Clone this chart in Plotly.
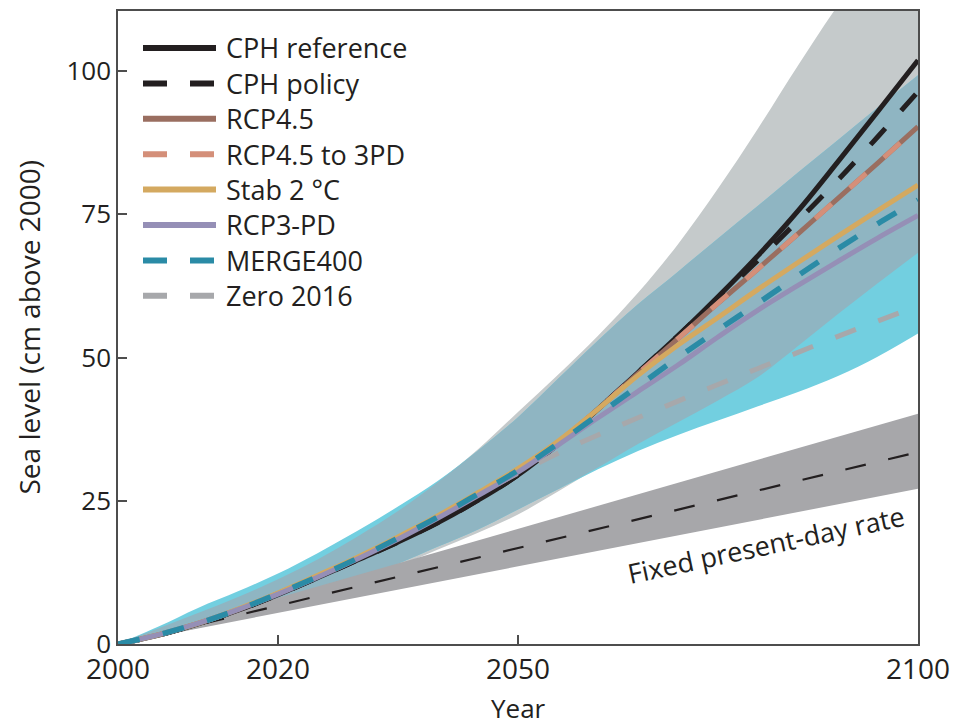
import numpy as np
import plotly.graph_objects as go

# ---------------------------------------------------------------- data
years = [2000, 2005, 2010, 2015, 2020, 2025, 2030, 2035, 2040, 2045, 2050,
         2055, 2060, 2065, 2070, 2075, 2080, 2085, 2090, 2095, 2100]

cph_reference = [0, 1.5, 3.5, 5.9, 8.6, 11.6, 14.7, 17.8, 21.2, 25.1, 29.5,
                 34.9, 41.0, 47.4, 53.8, 60.6, 67.8, 75.6, 84.2, 93.0, 101.9]
cph_policy = [0, 1.5, 3.5, 5.9, 8.6, 11.6, 14.7, 17.8, 21.2, 25.1, 29.5,
              34.9, 41.0, 47.4, 53.8, 60.4, 67.0, 73.9, 81.0, 88.6, 96.4]
rcp45 = [0, 1.6, 3.6, 6.0, 8.8, 11.8, 15.0, 18.5, 22.2, 26.2, 30.4,
         35.2, 41.0, 47.2, 53.3, 59.5, 65.5, 71.6, 77.8, 84.0, 90.3]
rcp45_to_3pd = [0, 1.6, 3.6, 6.0, 8.8, 11.8, 15.0, 18.5, 22.2, 26.2, 30.4,
                35.2, 41.0, 47.2, 53.3, 59.5, 65.5, 71.6, 77.8, 84.0, 90.3]
stab_2c = [0, 1.6, 3.6, 6.1, 8.9, 12.0, 15.2, 18.7, 22.4, 26.4, 30.6,
           35.4, 41.0, 46.9, 52.2, 57.0, 61.9, 66.6, 71.2, 75.7, 80.1]
rcp3_pd = [0, 1.6, 3.6, 6.0, 8.7, 11.7, 14.9, 18.3, 22.0, 25.9, 30.0,
           34.7, 39.5, 44.1, 48.7, 53.6, 58.3, 62.6, 66.8, 70.9, 74.8]
merge400 = [0, 1.6, 3.6, 6.0, 8.8, 11.8, 15.0, 18.5, 22.2, 26.2, 30.3,
            35.0, 40.0, 45.0, 50.0, 54.8, 59.5, 64.3, 69.0, 73.4, 77.5]
zero_2016 = [0, 1.6, 3.6, 6.0, 8.8, 11.8, 15.0, 18.5, 22.2, 26.1, 29.8,
             33.3, 36.5, 39.5, 42.4, 45.3, 48.1, 50.9, 53.7, 56.4, 59.0]

# uncertainty ranges
gray_low = [0, 1.3, 2.8, 4.5, 6.5, 8.6, 11.0, 13.6, 16.5, 19.4, 22.6,
            26.6, 30.8, 34.9, 38.7, 42.5, 46.6, 52.0, 57.6, 63.0, 68.3]
gray_high = [0, 2.7, 5.4, 8.2, 11.3, 14.8, 18.8, 23.2, 28.3, 34.0, 40.5,
             47.0, 53.8, 61.3, 69.8, 79.5, 90.0, 101.0, 111.5, 121.0, 130.0]
cyan_low = [0, 1.4, 3.0, 4.8, 7.0, 9.1, 11.5, 14.0, 17.0, 20.0, 23.5,
            27.0, 30.5, 33.7, 36.5, 39.0, 41.5, 44.0, 46.8, 50.2, 54.2]
cyan_high = [0, 3.0, 6.3, 9.2, 12.3, 15.9, 19.8, 24.0, 28.5, 33.8, 39.6,
             46.3, 53.0, 59.3, 65.0, 70.8, 76.5, 82.3, 88.0, 93.7, 99.3]

# fixed present-day rate (linear)
fixed_years = [2000, 2100]
fixed_low = [0, 27.1]
fixed_mid = [0, 33.5]
fixed_high = [0, 40.2]

x_ticks = [2000, 2020, 2050, 2100]
y_ticks = [0, 25, 50, 75, 100]

# ---------------------------------------------------------------- style
FONT = "Open Sans"
TEXT = "#231f20"
AX = "#4d4d4d"

C_BLACK = "#231f20"
C_BROWN = "#9a6e60"
C_SALMON = "#d48f79"
C_YELLOW = "#d4a960"
C_PURPLE = "#958fb6"
C_TEAL = "#2a8ba6"
C_GREY = "#a7a8ab"

C_BAND_GRAY = "#c5cacb"
C_BAND_CYAN = "#72cfe0"
C_BAND_BOTH = "#8fb5c2"
C_BAND_FIXED = "#a7a7aa"

DASH = "22px,24px"

fig = go.Figure()


def band(xs, lo, hi, color, shape="spline"):
    fig.add_trace(go.Scatter(
        x=list(xs), y=list(lo), mode="lines",
        line=dict(width=0, color=color, shape=shape),
        hoverinfo="skip", showlegend=False))
    fig.add_trace(go.Scatter(
        x=list(xs), y=list(hi), mode="lines", fill="tonexty", fillcolor=color,
        line=dict(width=0, color=color, shape=shape),
        hoverinfo="skip", showlegend=False))


band(years, gray_low, gray_high, C_BAND_GRAY)
band(years, cyan_low, cyan_high, C_BAND_CYAN)
both_low = np.maximum(gray_low, cyan_low)
both_high = np.minimum(gray_high, cyan_high)
band(years, both_low, both_high, C_BAND_BOTH)
band(fixed_years, fixed_low, fixed_high, C_BAND_FIXED, shape="linear")

fig.add_trace(go.Scatter(x=fixed_years, y=fixed_mid, mode="lines",
                         line=dict(color=C_BLACK, width=2.2, dash="21px,23px"),
                         showlegend=False, hoverinfo="skip"))

series = [
    ("CPH reference", cph_reference, C_BLACK, "solid", 5),
    ("CPH policy", cph_policy, C_BLACK, DASH, 5),
    ("RCP4.5", rcp45, C_BROWN, "solid", 5),
    ("RCP4.5 to 3PD", rcp45_to_3pd, C_SALMON, DASH, 5),
    ("Stab 2 °C", stab_2c, C_YELLOW, "solid", 5),
    ("RCP3-PD", rcp3_pd, C_PURPLE, "solid", 5),
    ("MERGE400", merge400, C_TEAL, DASH, 5.5),
    ("Zero 2016", zero_2016, C_GREY, DASH, 5),
]

draw_order = ["CPH reference", "CPH policy", "RCP4.5", "RCP4.5 to 3PD",
              "Zero 2016", "Stab 2 °C", "RCP3-PD", "MERGE400"]
lookup = {s[0]: s for s in series}
for name in draw_order:
    _, vals, color, dash, w = lookup[name]
    fig.add_trace(go.Scatter(x=years, y=vals, mode="lines", name=name,
                             line=dict(color=color, width=w, dash=dash,
                                       shape="spline"),
                             showlegend=False))

# ---------------------------------------------------------------- layout
W, H = 953, 726
ML, MR, MT, MB = 118, 35, 11, 82
PW, PH = W - ML - MR, H - MT - MB


def px_x(px):
    return (px - ML) / PW


def px_y(py):
    return (H - MB - py) / PH


shapes = []
annotations = []

# legend block
for i, (name, _, color, dash, _) in enumerate(series):
    yy = px_y(48.0 + 35.4 * i)
    shapes.append(dict(type="line", xref="paper", yref="paper",
                       x0=px_x(143), x1=px_x(216), y0=yy, y1=yy,
                       line=dict(color=color, width=6,
                                 dash="24px,23px" if dash != "solid" else "solid")))
    annotations.append(dict(text=name, xref="paper", yref="paper",
                            x=px_x(224), y=yy, xanchor="left", yanchor="middle",
                            showarrow=False,
                            font=dict(family=FONT, size=27, color=TEXT)))

annotations.append(dict(text="Fixed present-day rate", x=2081, y=17.3,
                        xref="x", yref="y", showarrow=False, textangle=-12,
                        font=dict(family=FONT, size=27, color=TEXT)))

# axis titles
annotations.append(dict(text="Year", xref="paper", yref="paper",
                        x=0.5, y=px_y(708.5), xanchor="center", yanchor="middle",
                        showarrow=False, borderpad=0,
                        font=dict(family=FONT, size=26, color=TEXT)))
annotations.append(dict(text="Sea level (cm above 2000)", xref="paper",
                        yref="paper", x=px_x(28), y=0.5, textangle=-90,
                        xanchor="center", yanchor="middle", showarrow=False,
                        font=dict(family=FONT, size=28, color=TEXT)))

fig.update_layout(
    width=W, height=H,
    margin=dict(l=ML, r=MR, t=MT, b=MB, autoexpand=False),
    paper_bgcolor="white", plot_bgcolor="white",
    showlegend=False,
    shapes=shapes, annotations=annotations,
    font=dict(family=FONT, color=TEXT),
    xaxis=dict(range=[2000, 2100], tickvals=x_ticks,
               ticktext=[str(t) for t in x_ticks],
               ticks="inside", ticklen=9, tickwidth=1.5, tickcolor=AX,
               showline=True, linecolor=AX, linewidth=1.5, mirror=True,
               showgrid=False, zeroline=False, automargin=False,
               tickfont=dict(family=FONT, size=28, color=TEXT)),
    yaxis=dict(range=[0, 110.5], tickvals=y_ticks,
               ticktext=[str(t) for t in y_ticks],
               ticks="inside", ticklen=9, tickwidth=1.5, tickcolor=AX,
               showline=True, linecolor=AX, linewidth=1.5, mirror=True,
               showgrid=False, zeroline=False, automargin=False,
               tickfont=dict(family=FONT, size=26, color=TEXT)),
)

fig.write_html("out.html")
